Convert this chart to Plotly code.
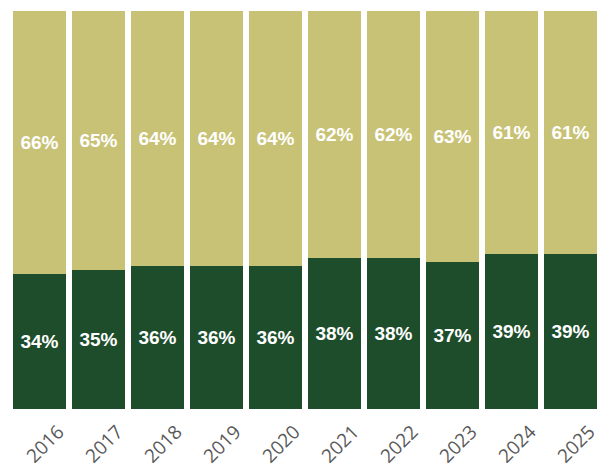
import plotly.graph_objects as go

years = ["2016", "2017", "2018", "2019", "2020", "2021", "2022", "2023", "2024", "2025"]
lower_share = [34, 35, 36, 36, 36, 38, 38, 37, 39, 39]
upper_share = [66, 65, 64, 64, 64, 62, 62, 63, 61, 61]

dark_green = "#1E4D2B"
khaki = "#C8C276"
label_font = {"family": "Liberation Sans, Arial", "size": 19, "color": "white", "weight": "bold"}

fig = go.Figure()

fig.add_trace(go.Bar(
    x=years,
    y=lower_share,
    marker={"color": dark_green, "line": {"width": 0}},
    text=[f"{v}%" for v in lower_share],
    textposition="inside",
    insidetextanchor="middle",
    textangle=0,
    textfont=label_font,
    showlegend=False
))

fig.add_trace(go.Bar(
    x=years,
    y=upper_share,
    marker={"color": khaki, "line": {"width": 0}},
    text=[f"{v}%" for v in upper_share],
    textposition="inside",
    insidetextanchor="middle",
    textangle=0,
    textfont=label_font,
    showlegend=False
))

fig.update_layout(
    barmode="stack",
    bargap=0.1,
    width=606,
    height=468,
    margin={"l": 10, "r": 6, "t": 11, "b": 59},
    paper_bgcolor="white",
    plot_bgcolor="white",
    uniformtext={"mode": "show", "minsize": 19},
    xaxis={
        "tickangle": -45,
        "tickfont": {"family": "Open Sans", "size": 19, "color": "#595959"},
        "showgrid": False,
        "showline": False,
        "ticks": "",
        "automargin": False,
        "ticklabelshift": 19,
        "ticklabelstandoff": 7,
    },
    yaxis={
        "range": [0, 100],
        "visible": False,
        "showgrid": False,
        "automargin": False,
    },
)

# drop the browser's default body margin so the figure sits at the page corner
fig.write_html(
    "out.html",
    config={"displayModeBar": False},
    post_script="document.body.style.margin='0';",
)
